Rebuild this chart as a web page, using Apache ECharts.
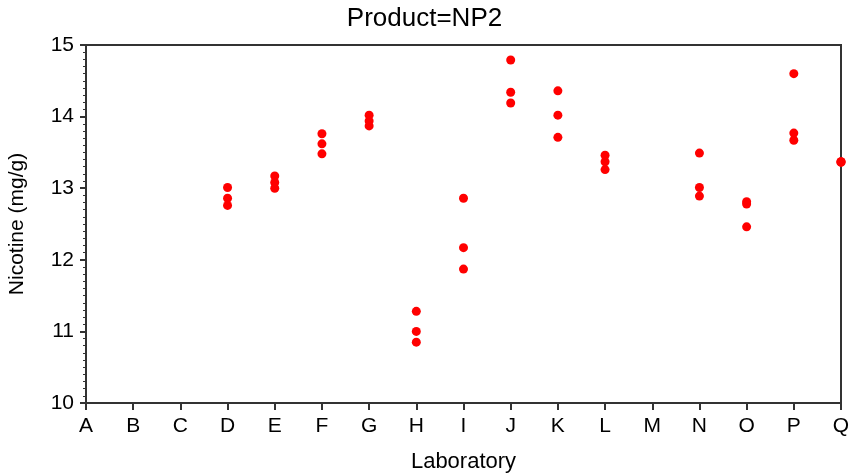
<!DOCTYPE html>
<html>
<head>
<meta charset="utf-8">
<script src="https://cdn.jsdelivr.net/npm/echarts@6/dist/echarts.min.js"></script>
<style>html,body{margin:0;padding:0;background:#fff}#c{width:849px;height:473px}</style>
</head>
<body>
<div id="c"></div>
<script>
const labs = ['A','B','C','D','E','F','G','H','I','J','K','L','M','N','O','P','Q'];
const rep1 = [null,null,null,13.01,13.17,13.76,14.02,11.28,12.86,14.79,14.36,13.46,null,13.49,12.81,14.60,13.37];
const rep2 = [null,null,null,12.86,13.08,13.62,13.94,11.00,12.17,14.34,14.02,13.37,null,13.01,12.78,13.77,13.37];
const rep3 = [null,null,null,12.76,13.00,13.48,13.87,10.85,11.87,14.19,13.71,13.26,null,12.89,12.46,13.67,13.36];
const yTicks = {min: 10, max: 15, step: 1};

const font = 'Arial, "Liberation Sans", sans-serif';
const pts = [];
[rep1, rep2, rep3].forEach(r => r.forEach((v, i) => { if (v != null) pts.push([labs[i], v]); }));

const chart = echarts.init(document.getElementById('c'), null, {renderer: 'canvas'});
chart.setOption({
  animation: false,
  backgroundColor: '#fff',
  title: {
    text: 'Product=NP2', left: 'center', top: 1,
    textStyle: {fontFamily: font, fontSize: 26, fontWeight: 'normal', color: '#000'}
  },
  grid: {left: 86, right: 8, top: 45, bottom: 70, outerBoundsMode: 'none', containLabel: false,
         show: true, borderColor: '#333', borderWidth: 2, backgroundColor: 'transparent'},
  xAxis: {
    type: 'category', data: labs, boundaryGap: false,
    name: 'Laboratory', nameLocation: 'middle', nameGap: 48,
    nameTextStyle: {fontFamily: font, fontSize: 22, color: '#000'},
    axisLine: {lineStyle: {color: '#333', width: 2}},
    axisTick: {show: true, length: 7, interval: 0, lineStyle: {color: '#333', width: 2}},
    axisLabel: {interval: 0, fontFamily: font, fontSize: 21, color: '#000', margin: 13},
    splitLine: {show: false}
  },
  yAxis: {
    type: 'value', min: yTicks.min, max: yTicks.max, interval: yTicks.step,
    name: 'Nicotine (mg/g)', nameLocation: 'middle', nameGap: 58, nameRotate: 90,
    nameTextStyle: {fontFamily: font, fontSize: 21, color: '#000'},
    axisLine: {show: true, lineStyle: {color: '#333', width: 2}},
    axisTick: {show: true, length: 6, lineStyle: {color: '#333', width: 2}},
    minorTick: {show: true, splitNumber: 10, length: 3, lineStyle: {color: '#333', width: 1}},
    axisLabel: {fontFamily: font, fontSize: 21, color: '#000', margin: 12},
    splitLine: {show: false}
  },
  series: [{
    type: 'scatter', data: pts, symbol: 'circle', symbolSize: 9, clip: false,
    itemStyle: {color: '#ff0000', opacity: 1}, z: 1
  }]
});
</script>
</body>
</html>
